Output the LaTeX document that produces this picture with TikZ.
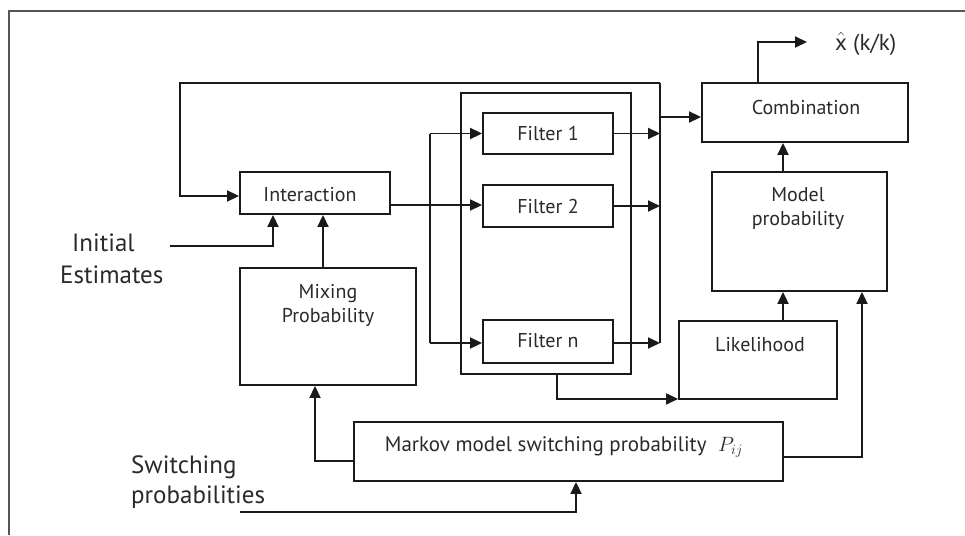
\documentclass[tikz,border=0pt]{standalone}
\usepackage{fontspec}
\setmainfont{PT Sans}
\usetikzlibrary{arrows.meta,calc}
\definecolor{ink}{HTML}{1A1A1A}
\definecolor{txtc}{HTML}{2A2A2A}
\definecolor{framec}{HTML}{555555}
\begin{document}
\begin{tikzpicture}[x=1pt,y=-1pt,
  box/.style={draw=ink,line width=1.9pt,inner sep=0pt,rectangle},
  lbl/.style={text=txtc,font=\fontsize{20}{24}\selectfont,inner sep=0pt,align=center},
  big/.style={text=txtc,font=\fontsize{25}{29}\selectfont,inner sep=0pt,align=left},
  wire/.style={draw=ink,line width=1.9pt},
  arr/.style={wire,-{Triangle[length=12pt,width=11pt]}}]
\useasboundingbox (0,0) rectangle (965,535);
\fill[white] (0,0) rectangle (965,535);
% frame
\draw[framec,line width=1.6pt] (965,11) -- (9,11) -- (9,535);
% boxes
\node[box,minimum width=150pt,minimum height=42pt] (inter) at (315,193) {};
\node[lbl] (intert) at (310,195) {Interaction};
\node[box,minimum width=206pt,minimum height=59pt] (comb) at (805,112.5) {};
\node[lbl] (combt) at (806,107) {Combination};
\node[box,minimum width=175pt,minimum height=119pt] (model) at (799.5,231.5) {};
\node[lbl] (modelt) at (798,209) {Model\\probability};
\node[box,minimum width=170pt,minimum height=281pt] (cont) at (546,233.5) {};
\node[box,minimum width=130pt,minimum height=41pt] (f1) at (548,133.5) {};
\node[lbl] (f1t) at (548,133) {Filter 1};
\node[box,minimum width=130pt,minimum height=42pt] (f2) at (548,206) {};
\node[lbl] (f2t) at (548,206) {Filter 2};
\node[box,minimum width=130pt,minimum height=43pt] (fn) at (548,341.5) {};
\node[lbl] (fnt) at (548,341) {Filter n};
\node[box,minimum width=158pt,minimum height=78pt] (lik) at (758,360) {};
\node[lbl] (likt) at (760,345) {Likelihood};
\node[box,minimum width=429pt,minimum height=59pt] (markov) at (568.5,451.5) {};
\node[lbl,font=\fontsize{21}{24}\selectfont] (markovt) at (564,447) {Markov model switching probability \;$P_{ij}$};
\node[box,minimum width=176pt,minimum height=117pt] (mix) at (328,326.5) {};
\node[lbl] (mixt) at (328,305) {Mixing\\Probability};
% free texts
\node[big,anchor=west] (init1) at (72,243) {Initial};
\node[big,anchor=west] (init2) at (60,275) {Estimates};
\node[big,anchor=west] (sw1) at (131,467) {Switching};
\node[big,anchor=west] (sw2) at (131,497) {probabilities};
\node[text=txtc,font=\fontsize{23}{26}\selectfont,inner sep=0pt,anchor=west] (xhat) at (835,44) {$\hat{\mbox{x}}$ (k/k)};
% coordinates
\coordinate (ctop) at (660,83);
\coordinate (cbot) at (660,343);
\coordinate (cmid) at (660,117);
\coordinate (dtop) at (430,133.5);
\coordinate (dbot) at (430,343);
\coordinate (loopc) at (180,83);
\coordinate (ie) at (170,246);
\coordinate (sp) at (240,512);
\coordinate (xend) at (807,42);
\coordinate (iout) at (390,205);
% collector and feedback
\draw[wire] (ctop) -- (cbot);
\draw[arr] (ctop) -- (loopc) |- ([yshift=-3pt]inter.west);
\draw[arr] (cmid) -- (comb.west |- cmid);
\draw[arr] ([xshift=-47pt]comb.north) |- (xend);
% filters
\draw[arr] (iout) -- (f2.west |- iout);
\draw[wire] (dtop) -- (dbot);
\draw[arr] (dtop) -- (f1.west);
\draw[arr] (dbot) -- (fn.west |- dbot);
\draw[arr] (f1.east) -- (f1.east -| ctop);
\draw[arr] (f2.east) -- (f2.east -| ctop);
\draw[arr] (fn.east |- cbot) -- (cbot);
\draw[arr] ([xshift=11pt]cont.south) |- ([yshift=1pt]lik.south west);
% right column
\draw[arr] ([xshift=-16.5pt]model.north) -- ([xshift=-16.5pt]model.north |- comb.south);
\draw[arr] ([xshift=25pt]lik.north) -- ([xshift=25pt]lik.north |- model.south);
\draw[arr] ([yshift=-5.5pt]markov.east) -| ([xshift=62.5pt]model.south);
% left column
\draw[arr] ([yshift=-9.5pt]markov.west) -| ([xshift=-13pt]mix.south);
\draw[arr] ([xshift=-5pt]mix.north) -- ([xshift=-5pt]mix.north |- inter.south);
\draw[arr] (ie) -| ([xshift=-42pt]inter.south);
\draw[arr] (sp) -| ([xshift=7.5pt]markov.south);
\end{tikzpicture}
\end{document}
